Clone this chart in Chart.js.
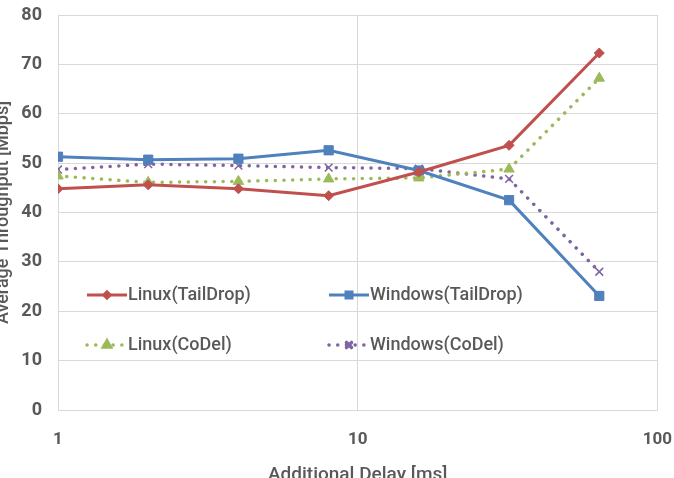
<!DOCTYPE html>
<html>
<head>
<meta charset="utf-8">
<script src="https://cdn.jsdelivr.net/npm/chart.js@4"></script>
<style>
  html, body { margin: 0; padding: 0; background: #fff; overflow: hidden; }
  #wrap { position: relative; width: 674px; height: 478px; overflow: hidden; }
  #chart { position: absolute; left: -8px; top: 0; }
</style>
</head>
<body>
<div id="wrap"><canvas id="chart" width="700" height="500"></canvas></div>
<script>
// delays on the x axis (ms), log scale
var delays = [1, 2, 4, 8, 16, 32, 64];
var xTickValues = [1, 10, 100];

// average throughput (Mbps) per series
var linuxTailDrop = [44.8, 45.6, 44.8, 43.4, 48.2, 53.6, 72.3];
var windowsTailDrop = [51.3, 50.7, 50.9, 52.6, 48.5, 42.5, 23.1];
var linuxCoDel = [47.4, 46.1, 46.3, 46.8, 47.0, 48.8, 67.2];
var windowsCoDel = [48.7, 49.8, 49.5, 49.1, 48.9, 46.8, 28.0];

var seriesNames = ['Linux(TailDrop)', 'Windows(TailDrop)', 'Linux(CoDel)', 'Windows(CoDel)'];

var textColor = '#595959';
var gridColor = '#d9d9d9';

function points(values) {
    return values.map(function (v, i) { return { x: delays[i], y: v }; });
}

function solid(label, values, color, style, radius) {
    return {
        label: label,
        data: points(values),
        borderColor: color,
        backgroundColor: color,
        borderWidth: 3,
        pointStyle: style,
        pointRadius: radius,
        pointBorderWidth: 1,
        tension: 0
    };
}

function dotted(label, values, color, style, radius, pbw) {
    return {
        label: label,
        data: points(values),
        borderColor: color,
        backgroundColor: color,
        borderWidth: 3.5,
        borderDash: [0.1, 8.6],
        borderCapStyle: 'round',
        pointStyle: style,
        pointRadius: radius,
        pointBorderWidth: pbw,
        tension: 0
    };
}

// legend drawn inside the plot area, two columns
var innerLegend = {
    id: 'innerLegend',
    afterDraw: function (chart) {
        var ctx = chart.ctx;
        var area = chart.chartArea;
        var cols = [area.left + 29, area.left + 271];
        var rows = [area.bottom - 115, area.bottom - 65];
        ctx.save();
        chart.data.datasets.forEach(function (ds, i) {
            var x0 = cols[i % 2];
            var y = rows[Math.floor(i / 2)];
            var x1 = x0 + 40;
            ctx.strokeStyle = ds.borderColor;
            ctx.lineWidth = ds.borderWidth;
            ctx.lineCap = ds.borderCapStyle || 'butt';
            ctx.setLineDash(ds.borderDash || []);
            ctx.beginPath();
            ctx.moveTo(x0, y);
            ctx.lineTo(x1, y);
            ctx.stroke();
            ctx.setLineDash([]);
            ctx.fillStyle = ds.backgroundColor;
            ctx.strokeStyle = ds.borderColor;
            Chart.helpers.drawPoint(ctx, {
                pointStyle: ds.pointStyle,
                radius: ds.pointRadius * 0.65,
                rotation: 0,
                borderWidth: ds.pointBorderWidth
            }, (x0 + x1) / 2, y);
            ctx.fillStyle = textColor;
            ctx.font = '500 18px Roboto';
            ctx.textAlign = 'left';
            ctx.textBaseline = 'middle';
            ctx.fillText(ds.label, x1 + 1, y);
        });
        ctx.restore();
    }
};

new Chart(document.getElementById('chart'), {
    type: 'line',
    data: {
        datasets: [
            solid(seriesNames[0], linuxTailDrop, '#c0504d', 'rectRot', 5),
            solid(seriesNames[1], windowsTailDrop, '#4f81bd', 'rect', 6.5),
            dotted(seriesNames[2], linuxCoDel, '#9bbb59', 'triangle', 6, 1),
            dotted(seriesNames[3], windowsCoDel, '#8064a2', 'crossRot', 5.5, 1.5)
        ]
    },
    options: {
        responsive: false,
        animation: false,
        layout: { padding: { top: 15, right: 33, bottom: 0, left: 0 } },
        plugins: {
            legend: { display: false },
            tooltip: { enabled: false }
        },
        scales: {
            x: {
                type: 'logarithmic',
                min: 1,
                max: 100,
                afterBuildTicks: function (scale) {
                    scale.ticks = xTickValues.map(function (v) { return { value: v }; });
                },
                afterFit: function (scale) { scale.height = 90; },
                grid: { color: gridColor, lineWidth: 1, drawTicks: false },
                border: { color: gridColor },
                ticks: {
                    color: textColor,
                    font: { family: 'Roboto', size: 17, weight: 'bold' },
                    padding: 20,
                    maxRotation: 0,
                    callback: function (v) { return String(v); }
                },
                title: {
                    display: true,
                    text: 'Additional Delay [ms]',
                    color: textColor,
                    font: { family: 'Roboto', size: 19, weight: '500' },
                    padding: { top: 0, bottom: 13 }
                }
            },
            y: {
                min: 0,
                max: 80,
                afterFit: function (scale) {
                    scale.width = 66;
                    scale.paddingTop = 0;
                    scale.paddingBottom = 0;
                },
                grid: { color: gridColor, lineWidth: 1, drawTicks: false },
                border: { color: gridColor },
                ticks: {
                    stepSize: 10,
                    color: textColor,
                    font: { family: 'Roboto', size: 18, weight: 'bold' },
                    padding: 16
                },
                title: {
                    display: true,
                    text: 'Average Throughput [Mbps]',
                    color: textColor,
                    font: { family: 'Roboto', size: 18, weight: '500' },
                    padding: { top: 1, bottom: 0 }
                }
            }
        }
    },
    plugins: [innerLegend]
});
</script>
</body>
</html>
